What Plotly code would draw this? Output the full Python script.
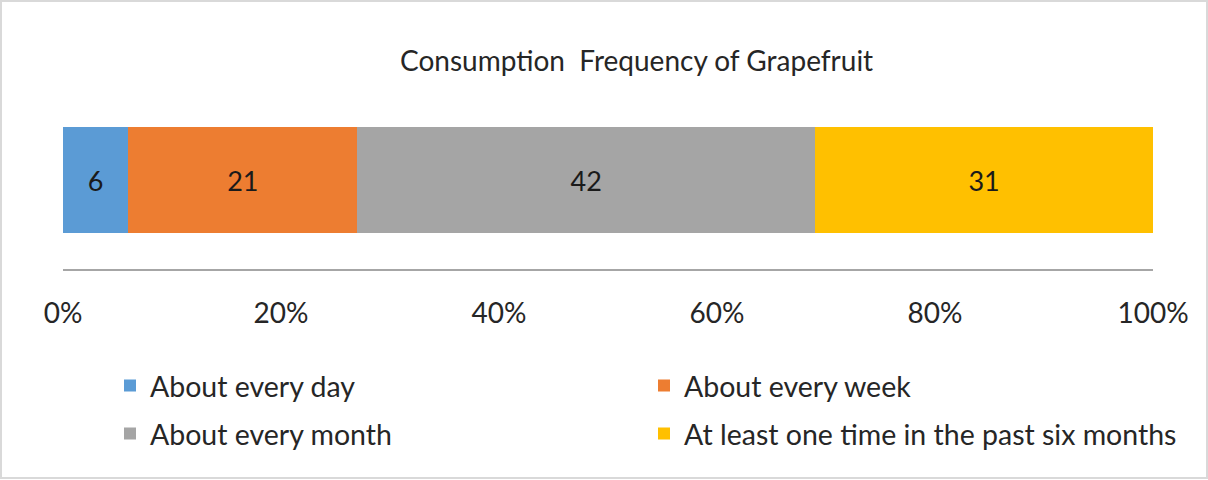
import plotly.graph_objects as go

categories = ["Grapefruit"]
series_names = ["About every day", "About every week", "About every month",
                "At least one time in the past six months"]
values = [6, 21, 42, 31]
colors = ["#5b9bd5", "#ed7d31", "#a5a5a5", "#ffc000"]
legend_ids = ["legend", "legend", "legend2", "legend2"]
tick_vals = [0, 20, 40, 60, 80, 100]
tick_text = ["0%", "20%", "40%", "60%", "80%", "100%"]
title_text = "Consumption  Frequency of Grapefruit"

W, H = 1208, 480
ml, mr, mt, mb = 63, 55, 91, 211
pw, ph = W - ml - mr, H - mt - mb

fig = go.Figure()
for name, v, c, lg in zip(series_names, values, colors, legend_ids):
    fig.add_trace(go.Bar(
        y=categories, x=[v], name=name, orientation="h",
        marker=dict(color=c, line=dict(width=0)),
        text=[str(v)], textposition="inside", insidetextanchor="middle",
        textfont=dict(size=27, color="#1a1a1a", family="Lato"),
        width=0.596, showlegend=True, legend=lg,
    ))

def px_x(x):
    return (x - ml) / pw

def px_y(y):
    return (H - mb - y) / ph

leg_common = dict(orientation="h", xanchor="left", yanchor="middle",
                  entrywidth=489, entrywidthmode="pixels", traceorder="normal",
                  font=dict(size=28.5, color="#262626", family="Lato"),
                  itemwidth=30, bgcolor="rgba(0,0,0,0)")

fig.update_layout(
    width=W, height=H,
    margin=dict(l=ml, r=mr, t=mt, b=mb, autoexpand=False),
    barmode="stack",
    plot_bgcolor="white", paper_bgcolor="white",
    font=dict(family="Lato", size=20, color="#262626"),
    showlegend=True,
    legend=dict(x=px_x(110), y=px_y(386), **leg_common),
    legend2=dict(x=px_x(110), y=px_y(434), **leg_common),
    xaxis=dict(range=[0, 100], tickvals=tick_vals, ticktext=tick_text,
               showgrid=False, zeroline=False, showline=True, linecolor="#a6a6a6",
               linewidth=2, ticks="outside", ticklen=18, tickcolor="rgba(0,0,0,0)",
               tickfont=dict(size=28, color="#262626", family="Lato"), fixedrange=True),
    yaxis=dict(range=[-0.5, 0.5], showticklabels=False, showgrid=False, zeroline=False,
               showline=False, fixedrange=True),
    annotations=[dict(text=title_text, xref="paper", yref="paper",
                      x=px_x(636), y=px_y(60), xanchor="center", yanchor="middle",
                      showarrow=False, font=dict(size=28, color="#262626", family="Lato"))],
    shapes=[dict(type="rect", xref="paper", yref="paper",
                 x0=px_x(1), x1=px_x(1207), y0=px_y(478), y1=px_y(1),
                 line=dict(color="#d9d9d9", width=2), fillcolor="rgba(0,0,0,0)", layer="below")],
)

fig.write_html("out.html")
